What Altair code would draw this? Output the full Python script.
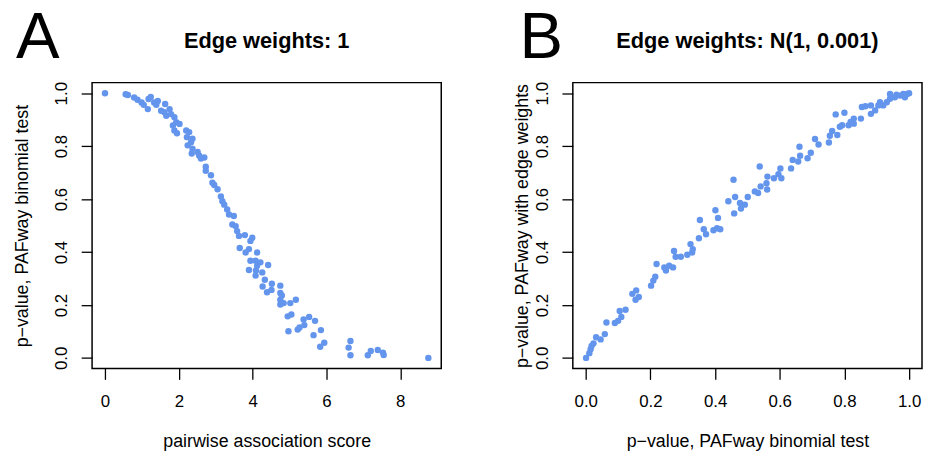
import altair as alt
import pandas as pd

FONT = "Liberation Sans"
COLOR = "#6495ED"

# Panel A: pairwise association score vs p-value (binomial test)
a_score = [0.00, 0.56, 0.62, 0.79, 0.88, 0.99, 1.05, 1.16, 1.18, 1.24, 1.33, 1.43, 1.39, 1.52,
           1.63, 1.66, 1.61, 1.75, 1.79, 1.88, 1.93, 2.02, 1.84, 1.88, 1.95, 2.20, 2.28, 2.22,
           2.37, 2.33, 2.24, 2.37, 2.35, 2.51, 2.55, 2.60, 2.69, 2.73, 2.73, 2.87, 2.91, 2.96,
           3.05, 3.14, 3.18, 3.23, 3.31, 3.36, 3.49, 3.45, 3.54, 3.58, 3.63, 3.79, 3.94, 3.99,
           3.65, 3.81, 3.90, 4.12, 3.94, 4.08, 4.21, 4.42, 4.12, 3.90, 4.09, 4.26, 4.08, 4.33,
           4.52, 4.27, 4.39, 4.51, 4.75, 4.75, 4.79, 4.75, 4.75, 4.84, 5.02, 5.17, 4.95, 5.05,
           5.38, 5.53, 5.69, 5.40, 5.27, 5.22, 4.97, 5.85, 5.65, 5.94, 5.83, 6.65, 6.60, 6.65,
           7.12, 7.20, 7.39, 7.53, 7.55, 8.76]
a_pval = [1.000, 0.996, 0.993, 0.984, 0.975, 0.965, 0.956, 0.940, 0.978, 0.986, 0.965, 0.971,
          0.956, 0.934, 0.959, 0.915, 0.928, 0.940, 0.921, 0.909, 0.890, 0.884, 0.878, 0.859,
          0.849, 0.859, 0.853, 0.834, 0.828, 0.815, 0.803, 0.790, 0.772, 0.778, 0.765, 0.753,
          0.757, 0.722, 0.707, 0.690, 0.662, 0.653, 0.637, 0.610, 0.592, 0.579, 0.561, 0.542,
          0.536, 0.504, 0.498, 0.479, 0.461, 0.464, 0.442, 0.454, 0.415, 0.398, 0.411, 0.398,
          0.367, 0.367, 0.361, 0.351, 0.348, 0.332, 0.330, 0.323, 0.311, 0.295, 0.280, 0.270,
          0.248, 0.257, 0.273, 0.245, 0.236, 0.220, 0.202, 0.207, 0.207, 0.220, 0.157, 0.164,
          0.145, 0.155, 0.140, 0.124, 0.115, 0.107, 0.101, 0.105, 0.086, 0.057, 0.042, 0.064,
          0.039, 0.010, 0.010, 0.026, 0.030, 0.020, 0.011, 0.000]

# Panel B: p-value binomial test vs p-value with edge weights
b_binom = [0.001, 0.011, 0.015, 0.018, 0.024, 0.032, 0.046, 0.059, 0.064, 0.090, 0.100, 0.110,
           0.105, 0.123, 0.144, 0.156, 0.154, 0.164, 0.202, 0.209, 0.215, 0.219, 0.243, 0.248,
           0.258, 0.270, 0.278, 0.294, 0.314, 0.329, 0.273, 0.324, 0.331, 0.350, 0.365, 0.372,
           0.353, 0.395, 0.406, 0.416, 0.401, 0.409, 0.441, 0.457, 0.459, 0.462, 0.477, 0.480,
           0.492, 0.501, 0.523, 0.533, 0.541, 0.559, 0.561, 0.538, 0.562, 0.582, 0.596, 0.602,
           0.605, 0.635, 0.640, 0.657, 0.663, 0.661, 0.686, 0.696, 0.709, 0.720, 0.752, 0.755,
           0.762, 0.778, 0.773, 0.800, 0.786, 0.793, 0.813, 0.819, 0.829, 0.829, 0.851, 0.854,
           0.865, 0.882, 0.882, 0.895, 0.905, 0.910, 0.920, 0.931, 0.941, 0.941, 0.956, 0.961,
           0.972, 0.982, 0.994, 1.000, 0.987]
b_weighted = [0.000, 0.018, 0.033, 0.045, 0.055, 0.078, 0.070, 0.090, 0.134, 0.132, 0.140, 0.155,
              0.177, 0.182, 0.242, 0.255, 0.220, 0.230, 0.273, 0.292, 0.307, 0.355, 0.342, 0.330,
              0.348, 0.342, 0.382, 0.382, 0.390, 0.398, 0.404, 0.430, 0.411, 0.452, 0.486, 0.467,
              0.521, 0.482, 0.490, 0.486, 0.558, 0.529, 0.592, 0.673, 0.546, 0.608, 0.585, 0.564,
              0.579, 0.608, 0.629, 0.623, 0.648, 0.660, 0.636, 0.723, 0.685, 0.679, 0.694, 0.716,
              0.679, 0.716, 0.748, 0.742, 0.764, 0.798, 0.754, 0.775, 0.827, 0.806, 0.814, 0.839,
              0.857, 0.842, 0.920, 0.926, 0.873, 0.879, 0.879, 0.891, 0.885, 0.904, 0.904, 0.948,
              0.951, 0.954, 0.922, 0.935, 0.954, 0.966, 0.954, 0.966, 0.979, 0.997, 0.985, 0.994,
              0.991, 0.997, 0.997, 1.000, 0.985]

a_xticks = [0, 2, 4, 6, 8]
unit_ticks = [0.0, 0.2, 0.4, 0.6, 0.8, 1.0]

W, H = 353, 289


def yaxis(title, title_pad):
    return alt.Axis(values=unit_ticks, format=".1f", title=title, labelAngle=270,
                    labelAlign="center", labelBaseline="bottom", labelPadding=11,
                    titlePadding=title_pad)


def panel(df, xfield, yfield, xdomain, xaxis, ytitle, ytitle_pad, letter, title, letter_dx):
    pts = alt.Chart(df).mark_circle(size=42, color=COLOR, opacity=1).encode(
        x=alt.X(f"{xfield}:Q", scale=alt.Scale(domain=xdomain, nice=False, zero=False), axis=xaxis),
        y=alt.Y(f"{yfield}:Q", scale=alt.Scale(domain=[-0.04, 1.04], nice=False, zero=False),
                axis=yaxis(ytitle, ytitle_pad)),
    )
    lab = alt.Chart(pd.DataFrame({"t": [letter]})).mark_text(
        align="left", baseline="alphabetic", fontSize=66, font=FONT, color="black"
    ).encode(x=alt.value(letter_dx), y=alt.value(-25), text="t:N")
    ttl = alt.Chart(pd.DataFrame({"t": [title]})).mark_text(
        align="center", baseline="alphabetic", fontSize=22, fontWeight="bold", font=FONT, color="black"
    ).encode(x=alt.value(W / 2), y=alt.value(-35), text="t:N")
    return alt.layer(pts, lab, ttl).properties(width=W, height=H)


dfA = pd.DataFrame({"score": a_score, "p": a_pval})
dfB = pd.DataFrame({"binom": b_binom, "weighted": b_weighted})

chartA = panel(dfA, "score", "p", [-0.35, 9.11],
               alt.Axis(values=a_xticks, format="d", title="pairwise association score"),
               "p−value, PAFway binomial test", 21, "A", "Edge weights: 1", -77)
chartB = panel(dfB, "binom", "weighted", [-0.04, 1.04],
               alt.Axis(values=unit_ticks, format=".1f", title="p−value, PAFway binomial test"),
               "p−value, PAFway with edge weights", 2, "B", "Edge weights: N(1, 0.001)", -54)

chart = alt.hconcat(chartA, chartB, spacing=71).configure(
    padding={"left": 5, "top": -6, "right": 0, "bottom": 0}
).configure_view(stroke="black", strokeWidth=1.5).configure_axis(
    domain=False, grid=False, ticks=True, tickColor="black", tickSize=11, tickWidth=1.3,
    labelFont=FONT, labelFontSize=17, labelColor="black",
    labelFlush=False, labelOverlap=False,
    titleFont=FONT, titleFontSize=18, titleFontWeight="normal", titleColor="black",
).configure_axisX(titlePadding=24, labelPadding=14)

chart.save("out.html", embed_options={"renderer": "svg", "actions": False})
